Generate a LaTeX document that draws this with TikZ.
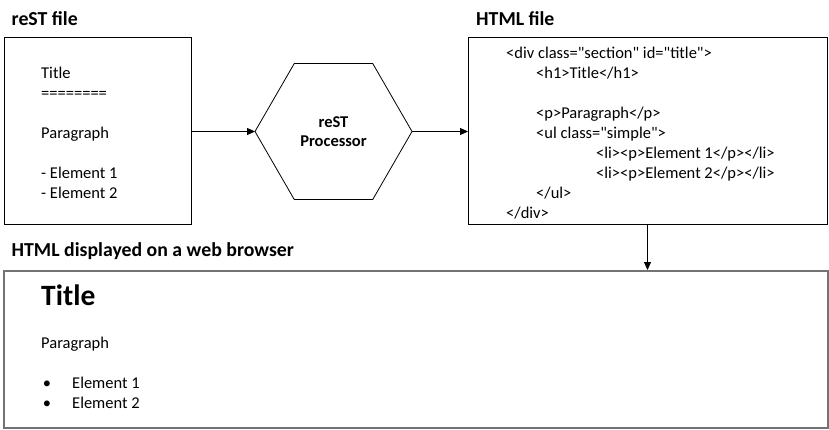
\documentclass[tikz,border=0pt]{standalone}
\usepackage{fontspec}
\setmainfont{Carlito}
\newfontfamily\carlito{Carlito}
\usetikzlibrary{arrows.meta,shapes.geometric}
\begin{document}
\begin{tikzpicture}[x=1pt,y=-1pt,
  txt/.style={anchor=base west,inner sep=0pt,font=\carlito\fontsize{16.5}{20}\selectfont},
  lbl/.style={anchor=base west,inner sep=0pt,font=\fontsize{19.8}{23}\selectfont\bfseries},
  box/.style={draw=black,line width=1pt,inner sep=0pt,outer sep=0pt},
  arr/.style={-{Triangle[length=8pt,width=7pt]},line width=0.9pt,black}]
\useasboundingbox (0,0) rectangle (829,429);
% labels
\node[lbl] (lrest) at (11.5,25) {reST file};
\node[lbl] (lhtml) at (476,25) {HTML file};
\node[lbl] (lbrow) at (11.5,256) {HTML displayed on a web browser};
% boxes
\node[box,minimum width=187.4pt,minimum height=187pt] (rest) at (98,130.5) {};
\node[box,minimum width=359pt,minimum height=187pt] (html) at (647.5,130.5) {};
\node[draw=black!55,line width=2pt,inner sep=0pt,minimum width=823.5pt,minimum height=157pt] (brow) at (416.2,349.5) {};
\node[draw=black,line width=0.8pt,regular polygon,regular polygon sides=6,minimum size=157pt,inner sep=0pt,outer sep=0pt,
  align=center,font=\fontsize{16.5}{19}\selectfont\bfseries] (hex) at (333.5,131.5) {reST\\Processor};
% connectors
\draw[arr] (rest.east |- hex.west) -- (hex.west);
\draw[arr] (hex.east) -- (html.west |- hex.east);
\draw[arr] (html.south) -- (brow.north -| html.south);
% reST text
\node[txt] (r1) at (41,78) {Title};
\node[txt] (r2) at (41,98) {========};
\node[txt] (r3) at (41,138) {Paragraph};
\node[txt] (r4) at (41,178) {- Element 1};
\node[txt] (r5) at (41,198) {- Element 2};
% HTML text
\node[txt] (h1) at (506,58) {<div class="section" id="title">};
\node[txt] (h2) at (536,78) {<h1>Title</h1>};
\node[txt] (h3) at (536,118) {<p>Paragraph</p>};
\node[txt] (h4) at (536,138) {<ul class="simple">};
\node[txt] (h5) at (596,158) {<li><p>Element 1</p></li>};
\node[txt] (h6) at (596,178) {<li><p>Element 2</p></li>};
\node[txt] (h7) at (536,198) {</ul>};
\node[txt] (h8) at (506,218) {</div>};
% browser text
\node[anchor=base west,inner sep=0pt,font=\fontsize{29.5}{34}\selectfont\bfseries] (b1) at (41,305) {Title};
\node[txt] (b2) at (41,348) {Paragraph};
\node[txt,anchor=base] (b3) at (47,388) {\textbullet};
\node[txt] (b4) at (72,388) {Element 1};
\node[txt,anchor=base] (b5) at (47,408) {\textbullet};
\node[txt] (b6) at (72,408) {Element 2};
\end{tikzpicture}
\end{document}
